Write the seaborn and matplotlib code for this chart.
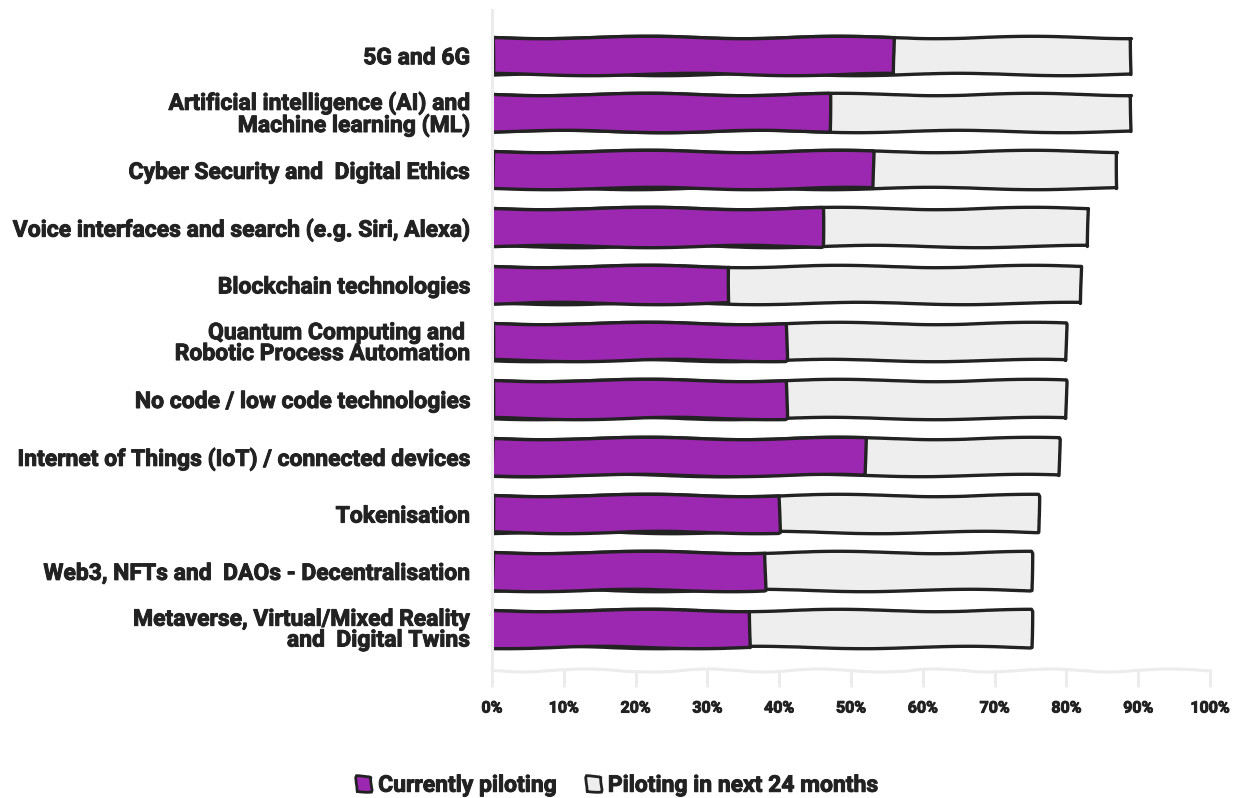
import matplotlib
matplotlib.use("Agg")
import matplotlib.pyplot as plt
import matplotlib.patches as mpatches
import matplotlib.patheffects as pe
import seaborn as sns
import pandas as pd

categories = [
    "5G and 6G",
    "Artificial intelligence (AI) and\nMachine learning (ML)",
    "Cyber Security and  Digital Ethics",
    "Voice interfaces and search (e.g. Siri, Alexa)",
    "Blockchain technologies",
    "Quantum Computing and \nRobotic Process Automation",
    "No code / low code technologies",
    "Internet of Things (IoT) / connected devices",
    "Tokenisation",
    "Web3, NFTs and  DAOs - Decentralisation",
    "Metaverse, Virtual/Mixed Reality\nand  Digital Twins",
]
currently_piloting = [56, 47, 53, 46, 33, 41, 41, 52, 40, 38, 36]
piloting_next_24 = [33, 42, 34, 37, 49, 39, 39, 27, 36, 37, 39]
x_ticks = [0, 10, 20, 30, 40, 50, 60, 70, 80, 90, 100]
series_names = ["Currently piloting", "Piloting in next 24 months"]

PURPLE = "#9c27b0"
GREY = "#eeeeee"
INK = "#222222"
AXIS_GREY = "#ececec"
WEIGHT = "bold"
HEAVY = [pe.withStroke(linewidth=0.7, foreground=INK)]

sns.set_theme(style="white")
plt.rcParams["font.family"] = ["Roboto", "DejaVu Sans"]
plt.rcParams["font.weight"] = WEIGHT

df = pd.DataFrame({
    "category": categories,
    "current": currently_piloting,
    "total": [c + n for c, n in zip(currently_piloting, piloting_next_24)],
})

fig = plt.figure(figsize=(12.34, 7.98), dpi=100)
ax = fig.add_axes([0.3987, 0.1604, 0.5819, 0.8271])

# Stacked bars: full total in grey, current share drawn on top in purple
sns.barplot(data=df, x="total", y="category", orient="h", color=GREY,
            edgecolor=INK, linewidth=2.4, width=0.65, saturation=1, ax=ax)
sns.barplot(data=df, x="current", y="category", orient="h", color=PURPLE,
            edgecolor=INK, linewidth=2.4, width=0.65, saturation=1, ax=ax)

for p in ax.patches:
    p.set_sketch_params(scale=1.2, length=220, randomness=2)
    p.set_joinstyle("round")

ax.set_xlim(0, 100)
ax.set_ylim(10.73, -0.79)
ax.set_xlabel("")
ax.set_ylabel("")
ax.set_xticks(x_ticks)
ax.set_xticklabels([f"{t}%" for t in x_ticks], fontsize=11.5, fontweight=WEIGHT, color=INK)
for lbl in ax.get_xticklabels():
    lbl.set_path_effects(HEAVY)
ax.tick_params(axis="x", length=12, width=2.2, color=AXIS_GREY, pad=10, bottom=True)
ax.tick_params(axis="y", length=0, pad=16)
for lbl in ax.get_yticklabels():
    lbl.set_fontsize(16.5)
    lbl.set_fontweight(WEIGHT)
    lbl.set_color(INK)
    lbl.set_linespacing(0.88)
    lbl.set_path_effects(HEAVY)

for side in ["top", "right"]:
    ax.spines[side].set_visible(False)
for side in ["bottom", "left"]:
    ax.spines[side].set_color(AXIS_GREY)
    ax.spines[side].set_linewidth(2.2)
ax.spines["bottom"].set_sketch_params(scale=1.5, length=150, randomness=3)

handles = [
    mpatches.Patch(facecolor=PURPLE, edgecolor=INK, linewidth=2.0, label=series_names[0]),
    mpatches.Patch(facecolor=GREY, edgecolor=INK, linewidth=2.0, label=series_names[1]),
]
leg = fig.legend(handles=handles, loc="center", bbox_to_anchor=(0.5, 0.016), ncol=2,
                 frameon=False, handlelength=0.65, handleheight=0.65, handletextpad=0.3,
                 columnspacing=1.3, prop={"family": "Roboto", "weight": WEIGHT, "size": 16.5})
for t in leg.get_texts():
    t.set_color(INK)
    t.set_path_effects(HEAVY)
for h in leg.legend_handles:
    h.set_sketch_params(scale=0.8, length=40, randomness=2)

fig.savefig("out.png", dpi=100, facecolor="white")
